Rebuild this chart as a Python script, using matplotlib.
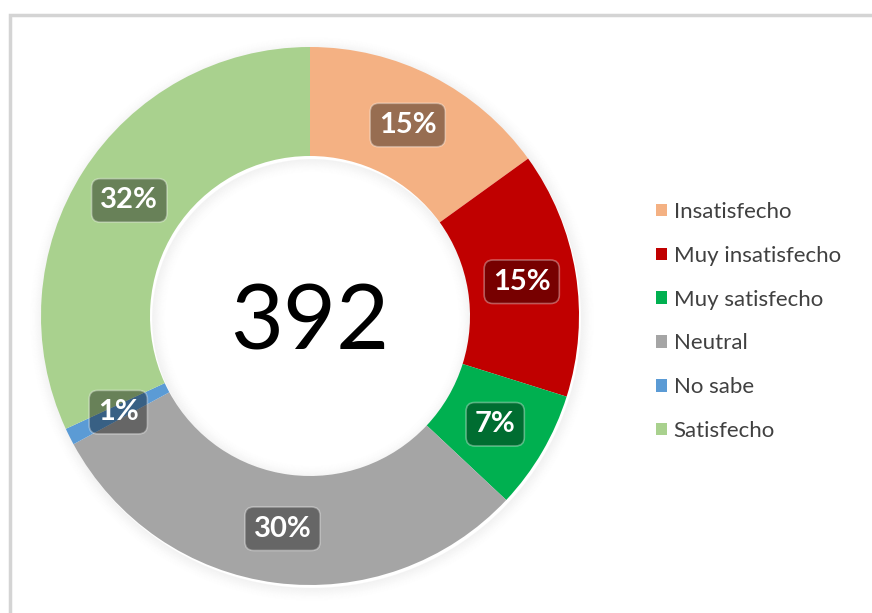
import numpy as np
import matplotlib
matplotlib.use("Agg")
import matplotlib.pyplot as plt
from matplotlib.patches import Wedge, Rectangle

# Datos de la encuesta (total = 392)
categorias = ["Insatisfecho", "Muy insatisfecho", "Muy satisfecho", "Neutral", "No sabe", "Satisfecho"]
respuestas = [59, 58, 28, 118, 4, 125]
colores = ["#F4B183", "#C00000", "#00B050", "#A5A5A5", "#5B9BD5", "#A9D18E"]
total = sum(respuestas)

plt.rcParams["font.family"] = ["Lato", "DejaVu Sans"]

W, H = 872, 613
fig = plt.figure(figsize=(W / 100, H / 100), dpi=100)
ax = fig.add_axes([0, 0, 1, 1])

# geometria en pixeles (y hacia arriba)
cx, cy = 310, H - 316
R, r = 269, 160

# sombra suave alrededor del anillo
for i in range(14):
    a = 0.045 * (1 - i / 14) ** 1.6
    ax.add_patch(Wedge((cx + 2, cy - 3), R + i + 1, 0, 360, width=1.2, color="black", alpha=a, lw=0))
    ax.add_patch(Wedge((cx + 2, cy - 3), r - i, 0, 360, width=1.2, color="black", alpha=a, lw=0))

wedges, _ = ax.pie(respuestas, colors=colores, startangle=90, counterclock=False,
                   radius=R, center=(cx, cy),
                   wedgeprops=dict(width=R - r, linewidth=0))

# etiquetas de porcentaje
for w, n in zip(wedges, respuestas):
    ang = np.deg2rad((w.theta1 + w.theta2) / 2)
    rm = (R + r) / 2
    x = cx + rm * np.cos(ang)
    y = cy + rm * np.sin(ang)
    ax.text(x, y, f"{round(100 * n / total)}%", ha="center", va="center",
            fontsize=21, fontweight="bold", color="white",
            bbox=dict(boxstyle="round,pad=0.3,rounding_size=0.3",
                      facecolor=(0, 0, 0, 0.38), edgecolor=(1, 1, 1, 0.35), lw=1.2))

# total en el centro
ax.text(cx, H - 350, str(total), ha="center", va="baseline", fontsize=66, color="black")

# marco
ax.add_patch(Rectangle((10, -20), 900, H - 15 + 20, fill=False, edgecolor="#D4D4D4", lw=2.5))

ax.legend(wedges, categorias, loc="upper left",
          bbox_to_anchor=(656 / W, 1 - 202 / H), frameon=False,
          fontsize=16, handlelength=0.5, handleheight=0.5, handletextpad=0.3,
          labelspacing=1.07, borderpad=0, borderaxespad=0, labelcolor="#404040")

ax.set_xlim(0, W)
ax.set_ylim(0, H)
ax.set_aspect("auto")
ax.axis("off")

fig.savefig("out.png", dpi=100)
